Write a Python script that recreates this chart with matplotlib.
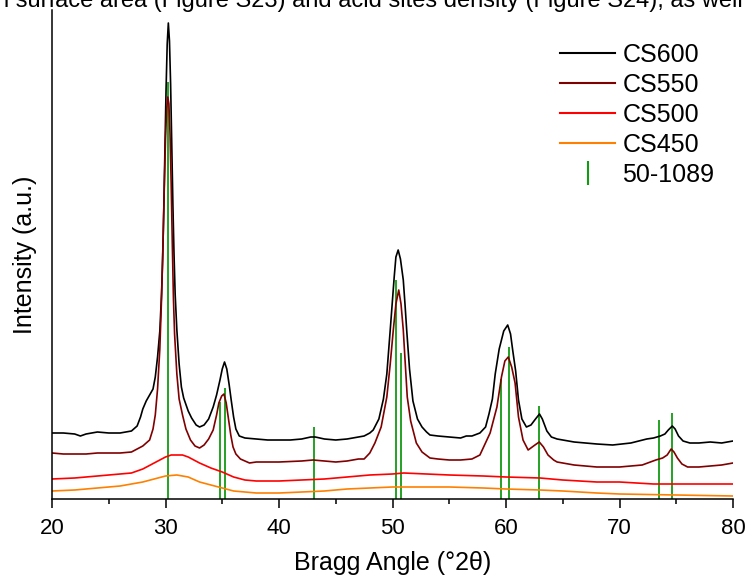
import matplotlib
matplotlib.use("Agg")
import matplotlib.pyplot as plt
from matplotlib.lines import Line2D

plt.rcParams['font.family'] = ['Liberation Sans', 'DejaVu Sans']

# ---------------- data (intensity in arbitrary units) ----------------
cs600_x = [20, 21, 22, 22.5, 23, 24, 25, 26, 26.5, 27, 27.5, 27.8, 28.0, 28.3, 28.6, 28.9, 29.1, 29.3,
           29.5, 29.65, 29.75, 29.85, 29.95, 30.05, 30.15, 30.25, 30.35, 30.45, 30.55, 30.65, 30.75,
           30.85, 31.0, 31.2, 31.4, 31.6, 32.0, 32.3, 32.7, 33.0, 33.4, 33.8, 34.2, 34.5, 34.8, 35.0,
           35.2, 35.4, 35.6, 35.8, 36.0, 36.2, 36.5, 37, 38, 39, 40, 41, 42, 42.8, 43.2, 44, 45, 46,
           47, 47.5, 48.0, 48.3, 48.8, 49.2, 49.5, 49.8, 50.0, 50.15, 50.3, 50.5, 50.7, 50.95, 51.1,
           51.25, 51.5, 51.8, 52.2, 52.6, 53.0, 53.3, 54, 55, 56, 56.5, 57, 57.7, 58.2, 58.5, 58.8,
           59.05, 59.4, 59.8, 60.15, 60.4, 60.6, 60.85, 61.1, 61.4, 61.8, 62.2, 62.6, 62.95, 63.2,
           63.6, 64.0, 64.5, 66, 68, 69.4, 71, 72.4, 73.0, 73.6, 74.0, 74.3, 74.65, 74.9, 75.2, 75.6,
           76.2, 77, 78, 79, 80]
cs600_y = [66, 66, 65, 63, 65, 67, 66, 66, 67, 68, 73, 82, 90, 98, 104, 110, 122, 142,
           168, 205, 240, 290, 350, 410, 455, 476, 458, 415, 355, 295, 245,
           205, 169, 135, 112, 101, 88, 81, 74, 72, 74, 80, 92, 104, 119, 130,
           137, 130, 115, 98, 82, 70, 63, 61, 60, 59, 59, 59, 60, 62, 62, 60, 59, 60,
           62, 63, 66, 69, 80, 100, 125, 169, 200, 222, 242, 249, 240, 219, 195,
           169, 130, 98, 80, 72, 67, 64, 63, 62, 61, 63, 63, 66, 72, 85, 100,
           125, 150, 168, 174, 165, 148, 128, 99, 80, 72, 74, 80, 85, 80,
           68, 62, 60, 57, 55, 54, 56, 60, 61, 63, 65, 69, 73, 70, 63, 58,
           56, 56, 57, 56, 58]

cs550_x = [20, 21, 22, 23, 24, 25, 26, 27, 27.5, 28, 28.6, 28.9, 29.1, 29.3, 29.5, 29.65, 29.8, 29.9,
           30.0, 30.1, 30.2, 30.3, 30.4, 30.5, 30.6, 30.7, 30.8, 31.0, 31.2, 31.5, 31.8, 32.2, 32.6,
           33.0, 33.4, 33.8, 34.2, 34.5, 34.7, 34.95, 35.15, 35.35, 35.55, 35.75, 35.95, 36.2, 36.6,
           37.4, 38, 40, 42, 43, 44, 45, 46, 47, 47.5, 48.0, 48.45, 49.0, 49.5, 49.8, 50.07, 50.3,
           50.55, 50.75, 50.95, 51.1, 51.3, 51.6, 52.1, 52.6, 53.3, 54, 55, 56, 57, 57.7, 58.6, 59.2,
           59.6, 59.9, 60.2, 60.5, 60.8, 61.1, 61.5, 61.95, 62.55, 62.93, 63.3, 63.7, 64.2, 64.5, 66,
           68, 70, 72, 73.2, 73.8, 74.2, 74.55, 74.8, 75.1, 75.5, 76.0, 77, 78, 79, 80]
cs550_y = [46, 45, 45, 45, 46, 46, 46, 47, 50, 53, 59, 70, 84, 110, 150, 200, 265, 315,
           360, 390, 402, 395, 365, 315, 255, 200, 165, 125, 100, 84, 70, 59, 53,
           51, 54, 60, 69, 84, 96, 103, 105, 96, 80, 64, 52, 45, 40,
           36, 37, 37, 38, 39, 38, 37, 38, 40, 40, 46, 56, 72, 102, 135, 169, 195,
           209, 195, 169, 140, 102, 78, 56, 47, 41, 40, 39, 39, 40, 44, 66, 92,
           122, 138, 142, 132, 116, 82, 59, 49, 54, 57, 52, 44, 39, 37, 34,
           32, 32, 34, 39, 41, 44, 50, 47, 41, 35, 32, 32, 33, 34, 36]

cs500_x = [20, 22, 24, 26, 27, 28, 29, 30, 30.5, 31, 31.5, 32, 33, 34, 35, 36, 37, 38, 40, 42, 44,
           46, 48, 50, 51, 53, 55, 58, 60, 63, 65, 68, 70, 73, 76, 80]
cs500_y = [20, 21, 23, 25, 26, 30, 36, 42, 44, 44, 44, 42, 36, 31, 27, 22, 19, 18, 18, 19, 20,
           22, 24, 25, 26, 25, 24, 23, 22, 21, 19, 17, 17, 15, 15, 15]

cs450_x = [20, 22, 24, 26, 27, 28, 29, 30, 31, 32, 33, 34, 35, 36, 37, 38, 40, 42, 44, 46, 48, 50,
           52, 55, 58, 60, 63, 65, 68, 70, 75, 80]
cs450_y = [8, 9, 11, 13, 15, 17, 20, 23, 24, 22, 17, 14, 11, 8, 7, 6, 6, 7, 8, 10, 11, 12,
           12, 12, 11, 10, 9, 8, 6, 5, 4, 3]

# reference pattern 50-1089: positions (deg 2theta) and relative heights
ref_pos = [30.25, 34.8, 35.25, 43.1, 50.35, 50.72, 59.6, 60.25, 62.95, 73.5, 74.6]
ref_int = [417, 97, 111, 72, 219, 146, 120, 152, 93, 79, 86]

series_labels = ['CS600', 'CS550', 'CS500', 'CS450']
series_colors = ['#000000', '#800000', '#ff0000', '#ff8000']
ref_label = '50-1089'
ref_color = '#139a13'

x_ticks = [20, 30, 40, 50, 60, 70, 80]

# ---------------- figure ----------------
fig = plt.figure(figsize=(7.45, 5.76), dpi=100)
ax = fig.add_axes([52 / 745, 77 / 576, 681 / 745, 489 / 576])

ax.vlines(ref_pos, 0, ref_int, color=ref_color, lw=1.3, zorder=1)

series = [(cs600_x, cs600_y), (cs550_x, cs550_y), (cs500_x, cs500_y), (cs450_x, cs450_y)]
for (xs, ys), lab, col in zip(series, series_labels, series_colors):
    ax.plot(xs, ys, color=col, lw=1.2, label=lab, zorder=2)

ax.set_xlim(20, 80)
ax.set_ylim(0, 489)
ax.set_xticks(x_ticks)
ax.set_xticks([25, 35, 45, 55, 65, 75], minor=True)
ax.set_yticks([])
for s in ['top', 'right']:
    ax.spines[s].set_visible(False)
for s in ['left', 'bottom']:
    ax.spines[s].set_linewidth(1.1)
ax.tick_params(axis='x', which='major', direction='out', length=6.5, width=1.1,
               labelsize=16, pad=7)
ax.tick_params(axis='x', which='minor', direction='out', length=3.5, width=1.1)

ax.set_xlabel('Bragg Angle (°2θ)', fontsize=18, labelpad=9)
ax.set_ylabel('Intensity (a.u.)', fontsize=18, labelpad=11)

handles = [Line2D([], [], color=c, lw=1.5) for c in series_colors]
handles.append(Line2D([], [], color=ref_color, lw=0, marker='|', markersize=17,
                      markeredgewidth=1.5))
leg = ax.legend(handles, series_labels + [ref_label], loc='upper left',
                bbox_to_anchor=(560 / 745, 1 - 43 / 576), bbox_transform=fig.transFigure,
                frameon=False, fontsize=18, handlelength=2.2, handletextpad=0.3,
                labelspacing=0.24, borderpad=0, borderaxespad=0)

fig.text(-4 / 745, 1 - 7 / 576,
         'n surface area (Figure S23) and acid sites density (Figure S24), as well as',
         fontsize=17, va='baseline', ha='left')

fig.savefig('out.png', dpi=100)
